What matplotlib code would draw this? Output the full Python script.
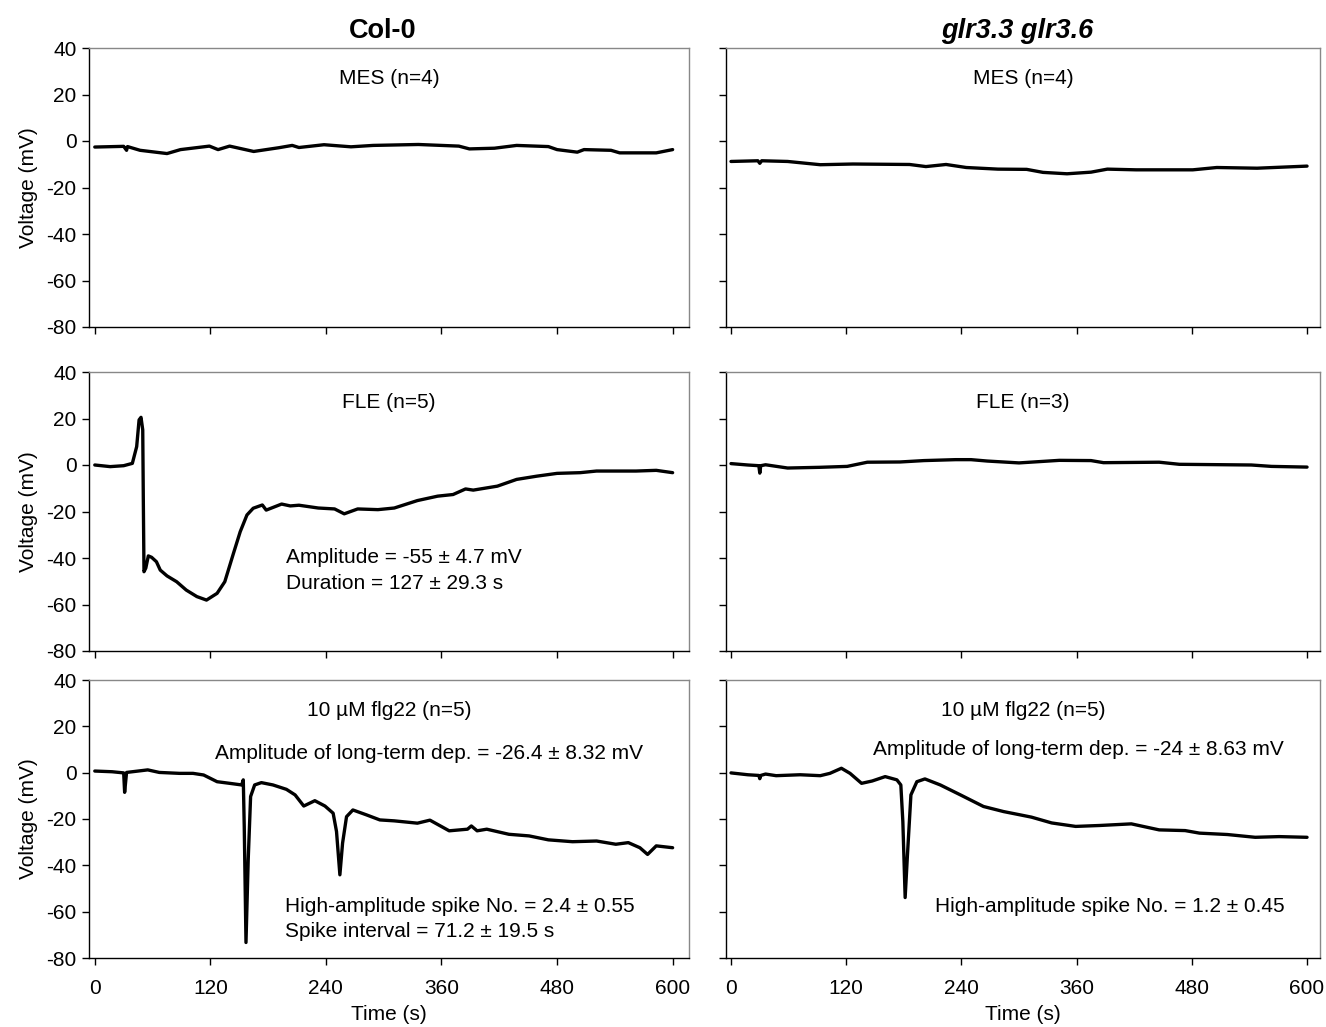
import matplotlib
matplotlib.use("Agg")
import matplotlib.pyplot as plt

plt.rcParams['font.family'] = ['Liberation Sans', 'DejaVu Sans']
plt.rcParams['font.size'] = 15
plt.rcParams['axes.unicode_minus'] = False

# ---- traces (time in s, voltage in mV) ----
# Col-0, MES
col_mes_t = [0, 30, 33, 34, 47, 75, 89, 119, 128, 140, 165, 191, 205, 212, 238, 266, 289,
             336, 378, 389, 415, 438, 471, 480, 501, 508, 536, 545, 583, 600]
col_mes_v = [-2.6, -2.3, -4.0, -2.4, -4.0, -5.4, -3.7, -2.2, -3.7, -2.2, -4.5, -2.9, -1.9, -2.8,
             -1.6, -2.5, -1.9, -1.5, -2.2, -3.4, -3.1, -1.9, -2.4, -3.7, -4.8, -3.7, -4.0,
             -5.1, -5.1, -3.7]

# glr3.3 glr3.6, MES
glr_mes_t = [0, 28, 30, 32, 59, 93, 127, 186, 203, 224, 245, 278, 308, 325, 350, 375, 392,
             422, 481, 506, 548, 600]
glr_mes_v = [-8.8, -8.5, -9.6, -8.5, -8.8, -10.2, -9.9, -10.1, -11.0, -10.1, -11.4, -12.1,
             -12.2, -13.5, -14.1, -13.4, -12.1, -12.4, -12.4, -11.4, -11.7, -10.8]

# Col-0, FLE
col_fle_t = [0, 16, 30, 39, 43.5, 46, 48, 49.8, 50.4, 51.1, 53, 55.6, 59, 64, 68, 75, 85, 95,
             106, 116, 127, 135, 144, 151, 158, 164.5, 174, 178, 194, 203, 212, 232, 249, 259,
             273, 294, 311, 335, 356, 372, 385, 393, 418, 438, 459, 480, 504, 521, 562, 583,
             600]
col_fle_v = [0.0, -0.7, -0.3, 0.7, 7.9, 19.4, 20.5, 15.1, -15.0, -45.9, -44.3, -39.1, -39.7,
             -41.6, -45.2, -47.7, -50.2, -53.8, -56.6, -58.1, -55.2, -50.2, -38.0, -28.7,
             -21.5, -18.6, -17.2, -19.4, -16.8, -17.6, -17.3, -18.5, -18.9, -21.0, -18.9,
             -19.2, -18.5, -15.3, -13.4, -12.7, -10.3, -10.8, -9.1, -6.2, -4.8, -3.6, -3.3,
             -2.6, -2.6, -2.3, -3.3]

# glr3.3 glr3.6, FLE
glr_fle_t = [0, 17.5, 29, 30, 31, 36, 59, 92, 121, 142, 176, 201, 234, 250, 267, 300, 342,
             375, 388, 446, 467, 542, 563, 600]
glr_fle_v = [0.6, 0.0, -0.3, -3.5, -0.3, 0.1, -1.3, -1.0, -0.6, 1.2, 1.3, 1.9, 2.3, 2.3, 1.7,
             0.9, 2.0, 1.9, 1.0, 1.2, 0.3, 0.0, -0.6, -0.9]

# Col-0, flg22
col_flg_t = [0, 18, 30, 31, 33, 55, 67, 88, 102, 113, 127, 140, 152.5, 154.2, 155.2, 157,
             159.3, 161.8, 166, 173, 185, 199, 208, 217, 228.5, 239, 247.5, 251, 254.5, 257.3,
             261.4, 268, 282, 296, 311, 335, 348, 368, 387, 391, 397, 407, 430, 451, 471, 496,
             521, 541, 554, 566, 574, 583, 600]
col_flg_v = [0.7, 0.4, -0.1, -8.5, 0.1, 1.2, 0.1, -0.3, -0.3, -1.0, -3.9, -4.6, -5.3, -3.1,
             -23.3, -73.3, -37.7, -10.3, -5.3, -4.3, -5.3, -7.2, -9.6, -14.4, -12.1, -14.4,
             -17.5, -25.4, -44.1, -30.4, -19.0, -16.1, -18.2, -20.4, -20.8, -21.8, -20.5,
             -25.1, -24.4, -23.0, -25.1, -24.4, -26.6, -27.3, -29.0, -29.8, -29.5, -30.9,
             -30.2, -32.4, -35.3, -31.6, -32.4]

# glr3.3 glr3.6, flg22
glr_flg_t = [0, 17.5, 29, 30, 31, 36, 47, 72, 93, 103, 115, 124, 136, 147, 160.6, 172.8,
             176.9, 179, 181.4, 183.8, 187.4, 193.6, 202, 218, 239, 263, 284, 301, 313, 334,
             359, 384, 417, 446, 473, 488, 517, 546, 571, 600]
glr_flg_v = [-0.1, -0.9, -1.2, -2.6, -1.2, -0.6, -1.3, -0.9, -1.3, -0.3, 1.9, -0.3, -4.6,
             -3.6, -1.7, -3.1, -5.3, -21.1, -53.9, -35.5, -9.6, -3.9, -2.7, -5.3, -9.6,
             -14.6, -16.8, -18.2, -19.2, -21.7, -23.2, -22.8, -22.1, -24.7, -25.0, -26.1,
             -26.7, -27.9, -27.6, -27.9]

col_titles = ["Col-0", "glr3.3 glr3.6"]
row_labels = [["MES (n=4)", "MES (n=4)"],
              ["FLE (n=5)", "FLE (n=3)"],
              ["10 \u00b5M flg22 (n=5)", "10 \u00b5M flg22 (n=5)"]]
traces = [[(col_mes_t, col_mes_v), (glr_mes_t, glr_mes_v)],
          [(col_fle_t, col_fle_v), (glr_fle_t, glr_fle_v)],
          [(col_flg_t, col_flg_v), (glr_flg_t, glr_flg_v)]]
x_ticks = [0, 120, 240, 360, 480, 600]
y_ticks = [-80, -60, -40, -20, 0, 20, 40]

fig = plt.figure(figsize=(13.26, 10.27), dpi=100)
W, H = 1326, 1027
col_px = [(89, 689, (-6, 617)), (726, 1320, (-5.2, 613.5))]
row_px = [(48, 327), (372, 651), (680, 958)]

axes = []
for r, (top, bot) in enumerate(row_px):
    row = []
    for c, (x0, x1, xl) in enumerate(col_px):
        ax = fig.add_axes([x0 / W, 1 - bot / H, (x1 - x0) / W, (bot - top) / H])
        t, v = traces[r][c]
        ax.plot(t, v, color='black', lw=2.4, solid_joinstyle='round', solid_capstyle='round')
        ax.set_xlim(*xl)
        ax.set_ylim(-80, 40)
        ax.set_xticks(x_ticks)
        ax.set_yticks(y_ticks)
        ax.tick_params(direction='out', length=5, width=1, color='black', labelsize=15)
        ax.tick_params(axis='x', pad=10)
        ax.tick_params(axis='y', pad=4)
        for s in ['left', 'bottom']:
            ax.spines[s].set_color('black')
            ax.spines[s].set_linewidth(1.0)
        for s in ['top', 'right']:
            ax.spines[s].set_color('#888888')
            ax.spines[s].set_linewidth(1.0)
        if c == 1:
            ax.set_yticklabels([])
        else:
            ax.set_ylabel("Voltage (mV)", fontsize=15, labelpad=6)
        if r < 2:
            ax.set_xticklabels([])
        else:
            ax.set_xlabel("Time (s)", fontsize=15, labelpad=5)
        ax.text(0.5, 0.89, row_labels[r][c], transform=ax.transAxes,
                ha='center', va='center', fontsize=15)
        row.append(ax)
    axes.append(row)

axes[0][0].set_title(col_titles[0], fontsize=19.5, fontweight='bold', pad=7, x=0.49)
axes[0][1].set_title(col_titles[1], fontsize=19.5, fontweight='bold', style='italic',
                     pad=7, x=0.49)

# annotations
axes[1][0].text(199, -39.6, "Amplitude = -55 \u00b1 4.7 mV", ha='left', va='center', fontsize=15)
axes[1][0].text(199, -50.8, "Duration = 127 \u00b1 29.3 s", ha='left', va='center', fontsize=15)
axes[2][0].text(125, 8.1, "Amplitude of long-term dep. = -26.4 \u00b1 8.32 mV",
                ha='left', va='center', fontsize=15)
axes[2][0].text(197, -57.9, "High-amplitude spike No. = 2.4 \u00b1 0.55",
                ha='left', va='center', fontsize=15)
axes[2][0].text(197, -68.7, "Spike interval = 71.2 \u00b1 19.5 s",
                ha='left', va='center', fontsize=15)
axes[2][1].text(148, 10.2, "Amplitude of long-term dep. = -24 \u00b1 8.63 mV",
                ha='left', va='center', fontsize=15)
axes[2][1].text(213, -57.9, "High-amplitude spike No. = 1.2 \u00b1 0.45",
                ha='left', va='center', fontsize=15)

fig.savefig("out.png", dpi=100)
